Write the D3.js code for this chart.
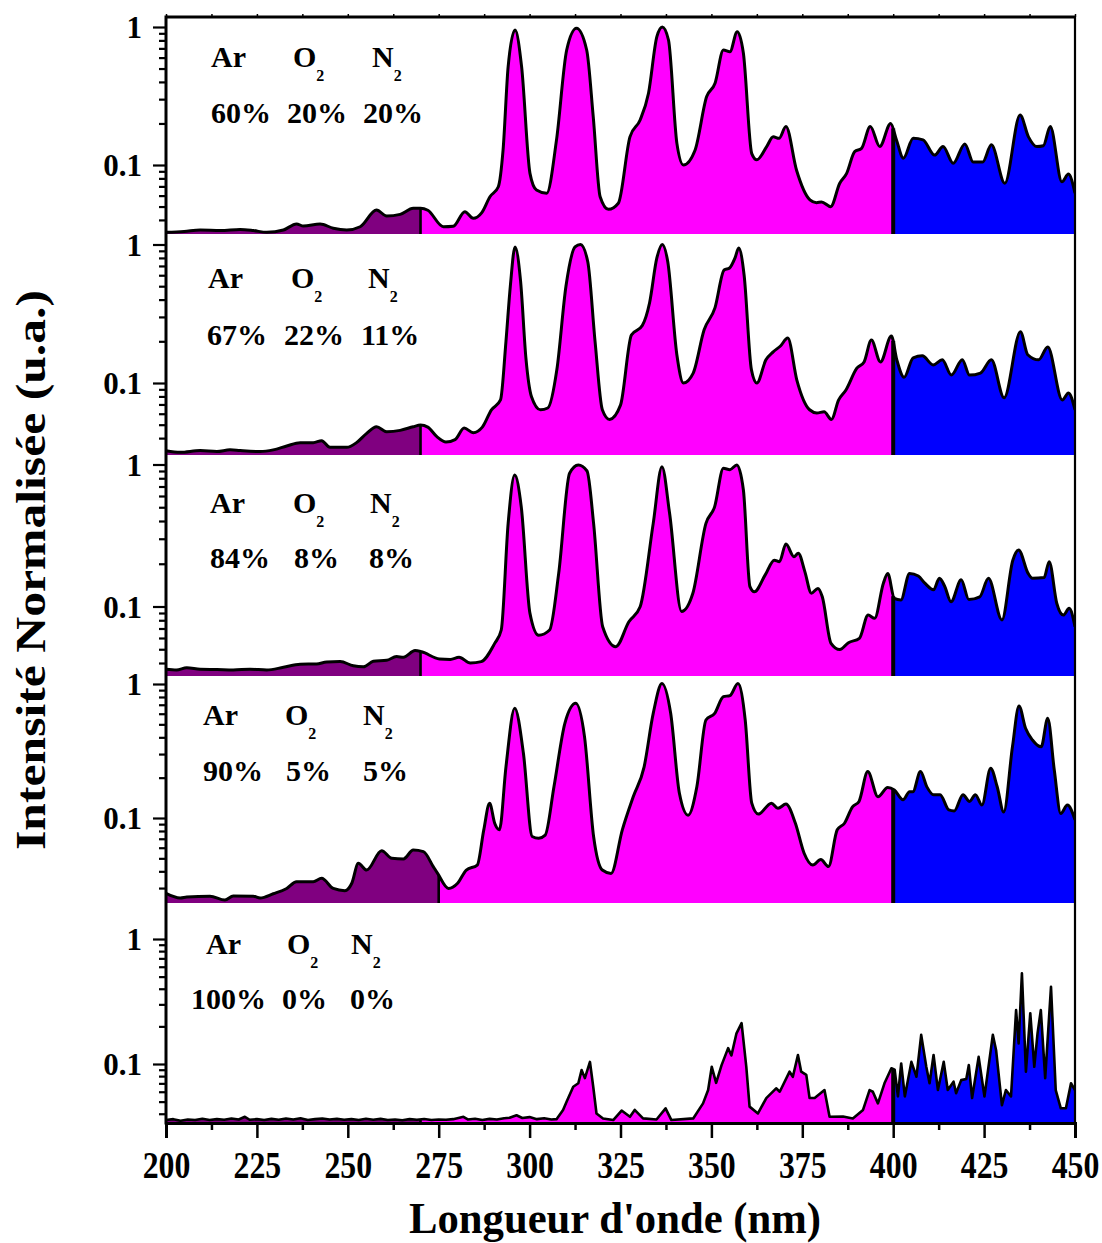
<!DOCTYPE html>
<html><head><meta charset="utf-8">
<script src="https://cdn.jsdelivr.net/npm/d3@7"></script>
<style>
body{margin:0;background:#fff}
text{font-family:"Liberation Serif","Times New Roman",Times,serif;font-weight:bold;fill:#000}
</style>
</head><body>
<svg id="chart" width="1102" height="1243"></svg>
<script>
// ---------------- DATA ----------------
const spectrum60 = [[200,0.0325],[205,0.033],[209.4,0.0338],[215,0.0335],[220.4,0.0341],[224,0.0335],[227.7,0.0325],[232.3,0.0338],[235.9,0.0374],[237.8,0.0361],[242.4,0.0374],[246,0.0348],[249.7,0.0338],[253.4,0.0357],[257.9,0.0472],[260.7,0.0427],[264.4,0.0439],[268,0.0486],[270,0.0486],[272,0.047],[276.3,0.0357],[279,0.036],[282.2,0.0459],[284.5,0.0411],[286.8,0.045],[289.1,0.0589],[291.4,0.0696],[292.7,0.128],[294.1,0.516],[296,0.951],[297.8,0.516],[300.1,0.087],[301.9,0.0659],[304.7,0.0624],[307.4,0.152],[310.2,0.681],[312.9,0.978],[315.7,0.681],[317.5,0.224],[319.4,0.0589],[321.7,0.0477],[324.4,0.0528],[327.6,0.16],[330.4,0.212],[332.7,0.331],[335,0.851],[336.5,1.0],[338.2,0.805],[340.5,0.144],[342.3,0.1],[345.5,0.128],[348.7,0.313],[351,0.391],[353.3,0.681],[355.1,0.662],[357.1,0.925],[358.8,0.645],[361.1,0.121],[362.5,0.109],[365.2,0.136],[367,0.16],[368.6,0.156],[370.5,0.19],[373.4,0.092],[377.1,0.0559],[378.9,0.0533],[380.3,0.054],[382.8,0.0499],[385.3,0.0738],[387.2,0.087],[389.4,0.125],[391.3,0.132],[393.7,0.19],[396.3,0.136],[399.3,0.2],[400.9,0.152],[402.8,0.112],[405.5,0.156],[408.2,0.152],[411.4,0.118],[413.7,0.136],[416.5,0.103],[419.7,0.142],[422,0.105],[424.6,0.105],[427,0.14],[430.7,0.0738],[434.9,0.23],[437.2,0.16],[439.5,0.136],[441.3,0.138],[443.2,0.19],[446.4,0.0756],[448.2,0.0859],[450,0.0624]];

const spectrum67 = [[200,0.0325],[203.9,0.0316],[209.4,0.0325],[214,0.032],[217.6,0.0329],[220.4,0.0325],[225.9,0.032],[229.5,0.0329],[233.2,0.0351],[236.9,0.0371],[240.5,0.0371],[242.8,0.0383],[245.1,0.0343],[249.7,0.0343],[252.4,0.0371],[255.2,0.0433],[257.9,0.0483],[260.7,0.0445],[264.4,0.0455],[268,0.0483],[270,0.0497],[272,0.048],[274.5,0.041],[277,0.0375],[279.5,0.039],[282,0.0473],[284.5,0.0438],[287,0.048],[289.5,0.064],[292,0.0755],[293.5,0.2],[294.7,0.5],[296,0.96],[297.5,0.55],[299,0.15],[300.5,0.08],[303,0.0641],[305,0.066],[307.5,0.125],[310,0.5],[312.5,0.96],[314,1.0],[316,0.75],[318,0.2],[320,0.0641],[322,0.0546],[325,0.0692],[328,0.222],[331,0.26],[333,0.38],[335,0.8],[336.5,1.0],[338,0.75],[340.5,0.16],[342.3,0.1],[345,0.118],[348,0.242],[351,0.35],[353.5,0.654],[355,0.677],[356.5,0.8],[357.5,0.944],[359,0.6],[361,0.125],[362.5,0.1],[365,0.147],[367,0.168],[369,0.185],[371,0.211],[373.5,0.105],[377,0.0641],[379,0.0608],[381,0.062],[383,0.0546],[385,0.0755],[387,0.089],[390,0.128],[392,0.142],[394,0.204],[396.5,0.142],[399.5,0.218],[401,0.147],[403,0.11],[405.5,0.152],[408,0.157],[411,0.135],[413.5,0.147],[416,0.114],[419,0.147],[421,0.114],[424,0.118],[427,0.147],[430.5,0.0782],[435,0.234],[437,0.16],[440,0.147],[442.5,0.182],[446.5,0.0755],[448.2,0.0848],[450,0.0641]];

const spectrum84 = [[200,0.0361],[202.9,0.0357],[205.7,0.0371],[209.4,0.0362],[214,0.036],[218.5,0.0357],[223.1,0.0362],[227.7,0.0357],[232.3,0.0373],[236.9,0.0392],[241.4,0.0394],[244.2,0.0407],[247.9,0.041],[251.5,0.0382],[254.3,0.0376],[257,0.0411],[260.7,0.0418],[263.4,0.0444],[265.3,0.0439],[268.5,0.0489],[270.3,0.048],[275.2,0.0427],[278.2,0.0424],[280.6,0.0439],[283.7,0.04],[286.7,0.0409],[290.4,0.055],[292.2,0.0683],[294.1,0.385],[295.9,0.843],[297.7,0.505],[300.1,0.0894],[302.5,0.0627],[305.5,0.0683],[308,0.171],[311,0.867],[313.4,0.992],[315.8,0.9],[317.6,0.385],[320.1,0.072],[323.7,0.0521],[327.3,0.0781],[330.4,0.0995],[334,0.385],[336.4,0.965],[338.5,0.453],[341.8,0.0924],[344.9,0.124],[348.5,0.385],[350.9,0.505],[353.3,0.94],[355.1,0.92],[357,0.992],[358.8,0.661],[360.6,0.138],[361.8,0.127],[364.8,0.167],[367.3,0.212],[368.7,0.207],[370.5,0.275],[372.7,0.224],[373.9,0.237],[375.7,0.176],[377.5,0.124],[379.3,0.134],[380.5,0.117],[382.9,0.055],[385.3,0.0497],[387.7,0.0556],[390.7,0.0597],[393.1,0.087],[394.9,0.0825],[397.3,0.146],[398.5,0.171],[400.3,0.114],[402.1,0.111],[404.5,0.171],[406.9,0.164],[408.7,0.146],[411.1,0.131],[412.7,0.158],[414.1,0.14],[415.9,0.108],[418.7,0.154],[420.8,0.112],[423.8,0.117],[426.2,0.158],[429.9,0.0804],[432.9,0.212],[434.5,0.25],[437.1,0.171],[438.3,0.158],[441.5,0.16],[442.9,0.207],[445,0.105],[446.8,0.087],[448.4,0.0971],[450,0.072]];

const spectrum90 = [[200,0.0274],[203.9,0.0253],[205.7,0.0257],[212.1,0.0261],[216.2,0.0244],[218.5,0.0262],[224,0.0261],[225.9,0.0253],[229.5,0.0272],[233.2,0.0298],[235.9,0.0335],[240.5,0.0335],[242.8,0.0355],[246,0.0298],[249.2,0.0287],[251.1,0.0326],[252.9,0.0459],[255.2,0.0409],[259.3,0.057],[262.1,0.05],[265.3,0.0495],[268,0.0576],[270.8,0.0561],[273.5,0.0434],[274.7,0.0386],[277.7,0.0298],[280.2,0.0326],[282.6,0.0409],[285.6,0.0445],[287.4,0.0816],[289,0.129],[290.4,0.0914],[291.7,0.0816],[293.5,0.241],[295.9,0.659],[298.3,0.304],[300.7,0.0728],[302.5,0.0707],[304.3,0.0746],[306.7,0.171],[309.7,0.509],[312.7,0.718],[315.1,0.405],[317.6,0.0728],[320,0.0409],[322.4,0.0386],[325.5,0.0816],[328.5,0.144],[331.5,0.241],[334,0.604],[336.4,1.01],[338.8,0.604],[341.2,0.153],[343.6,0.105],[346,0.171],[348.5,0.539],[350.9,0.604],[353.3,0.804],[355.1,0.82],[357.3,1.01],[359.3,0.539],[361.1,0.129],[362.9,0.107],[366.5,0.129],[368.3,0.118],[370.5,0.127],[373.1,0.0914],[375.5,0.0546],[377.9,0.0445],[380.1,0.049],[382.2,0.0434],[384.6,0.0816],[386.6,0.0914],[388.8,0.121],[390.6,0.133],[393,0.222],[395.8,0.144],[398.5,0.169],[400.3,0.162],[402.7,0.137],[404.5,0.157],[405.4,0.157],[407.5,0.222],[409.3,0.17],[411.1,0.149],[412.9,0.149],[415.3,0.115],[416.8,0.113],[419.2,0.149],[421,0.133],[422.6,0.149],[424.4,0.125],[426.8,0.235],[428.6,0.171],[430.4,0.111],[432.8,0.34],[434.6,0.685],[436.4,0.467],[438.3,0.382],[440.7,0.34],[442.5,0.555],[444.3,0.228],[446.1,0.108],[447.9,0.125],[450,0.097]];

const spectrum100 = [[200,0.0356],[202,0.0362],[204,0.0352],[206,0.036],[208,0.0356],[210,0.0365],[212,0.0356],[214,0.0362],[216,0.0358],[218,0.0366],[220,0.036],[221.7,0.0378],[223,0.0358],[225,0.0362],[227,0.0356],[229,0.0364],[231,0.0358],[233,0.0366],[235,0.036],[237,0.0368],[239,0.0356],[241,0.0362],[243,0.0366],[245,0.036],[247,0.0364],[249,0.0358],[251,0.0362],[253,0.0356],[255,0.0365],[257,0.0358],[259,0.0364],[261,0.0356],[263,0.036],[265,0.0355],[267,0.0362],[269,0.0358],[271,0.0363],[273,0.0356],[275,0.036],[277,0.0358],[279,0.0362],[281.8,0.0378],[283,0.036],[285,0.0365],[287,0.0356],[289,0.0364],[291,0.036],[293,0.0368],[294.5,0.0372],[296.4,0.0389],[298,0.037],[300,0.0376],[302,0.0362],[304,0.0368],[306,0.036],[307.4,0.0362],[309.2,0.0429],[310.2,0.0501],[312,0.0658],[313.4,0.0701],[314.3,0.0894],[315.2,0.0771],[316.6,0.104],[317.5,0.0658],[318.4,0.0402],[320.2,0.0367],[323,0.0356],[325.3,0.0424],[327.6,0.0378],[328.9,0.0429],[331.2,0.0367],[334.9,0.036],[337.4,0.0442],[339,0.0356],[345,0.0367],[347.7,0.0484],[349.1,0.0619],[350.1,0.095],[351.3,0.0707],[352.8,0.098],[354.6,0.134],[355.5,0.117],[356.9,0.176],[358.3,0.212],[359.6,0.095],[360.5,0.0456],[362.8,0.0402],[365.1,0.0534],[367.8,0.0639],[368.8,0.06],[371.5,0.0868],[372.4,0.079],[373.8,0.118],[374.7,0.0868],[376.1,0.0819],[377,0.0534],[378.4,0.0534],[381.1,0.0619],[382.5,0.0378],[386.2,0.038],[388.9,0.0367],[391.7,0.0429],[393.5,0.0619],[394.4,0.06],[395.8,0.0484],[397.6,0.0701],[399.5,0.0925],[400.4,0.09],[401.3,0.055],[402.2,0.101],[403.2,0.055],[405,0.104],[406.4,0.0791],[407.7,0.171],[409.1,0.095],[410,0.0701],[411.1,0.118],[412.3,0.0619],[413.9,0.104],[415,0.0619],[416.6,0.0722],[417.3,0.0583],[418.7,0.0743],[420.1,0.076],[420.8,0.098],[421.7,0.0534],[423.5,0.114],[425.1,0.055],[427.4,0.171],[428.3,0.129],[429.9,0.0469],[431,0.0619],[432.4,0.055],[433.8,0.27],[434.5,0.146],[435.4,0.532],[436.5,0.0868],[437.7,0.255],[438.8,0.095],[439.7,0.176],[440.6,0.27],[441.8,0.0771],[443.4,0.415],[444.7,0.0619],[446.1,0.0442],[447.5,0.0442],[448.9,0.0701],[450,0.0619]];

const gasNames = ["Ar", "O", "N"];            // O and N carry subscript 2
const gasSubscripts = ["", "2", "2"];
const compositions = [
  ["60%", "20%", "20%"],
  ["67%", "22%", "11%"],
  ["84%", "8%", "8%"],
  ["90%", "5%", "5%"],
  ["100%", "0%", "0%"]
];
const spectra = [spectrum60, spectrum67, spectrum84, spectrum90, spectrum100];
// wavelength boundaries between fill colours (nm)
const regionBreaks = [[270, 400], [270, 400], [270, 400], [275, 400], [270, 400]];
const xTickValues = [200, 225, 250, 275, 300, 325, 350, 375, 400, 425, 450];
const xMinorTickValues = [212.5, 237.5, 262.5, 287.5, 312.5, 337.5, 362.5, 387.5, 412.5, 437.5];
const yTickValues = [1, 0.1];
const yTickLabels = ["1", "0.1"];
const xAxisTitle = "Longueur d'onde (nm)";
const yAxisTitle = "Intensité Normalisée (u.a.)";

// ---------------- LAYOUT ----------------
const plotLeft = 166, plotRight = 1075;
// per panel: top, bottom, pixel of 1, pixel of 0.1
const panelLayout = [
  {top: 17,  bottom: 234,  p1: 27,    p01: 165},
  {top: 234, bottom: 455,  p1: 244.5, p01: 383},
  {top: 455, bottom: 676,  p1: 464.5, p01: 606.5},
  {top: 676, bottom: 903,  p1: 684,   p01: 818},
  {top: 903, bottom: 1123, p1: 939,   p01: 1064}
];
const labelPos = [
  {gx: [211, 293, 372], gy: 67,   px: [211, 287, 363], py: 123},
  {gx: [208, 291, 368], gy: 288,  px: [207, 284, 361], py: 345},
  {gx: [210, 293, 370], gy: 513,  px: [210, 294, 369], py: 568},
  {gx: [203, 285, 363], gy: 725,  px: [203, 286, 363], py: 781},
  {gx: [206, 287, 351], gy: 954,  px: [191, 282, 350], py: 1009}
];
const colPurple = "#800080", colMagenta = "#FF00FF", colBlue = "#0000FF";

const svg = d3.select("#chart");
const x = d3.scaleLinear().domain([200, 450]).range([plotLeft, plotRight]);
const defs = svg.append("defs");

function yAtX(node, xt) {
  const L = node.getTotalLength();
  let lo = 0, hi = L;
  for (let i = 0; i < 40; i++) {
    const mid = (lo + hi) / 2;
    if (node.getPointAtLength(mid).x < xt) lo = mid; else hi = mid;
  }
  return node.getPointAtLength((lo + hi) / 2).y;
}

spectra.forEach((data, i) => {
  const L = panelLayout[i];
  const dec = L.p01 - L.p1;
  const vTop = Math.pow(10, (L.p1 - L.top) / dec);
  const vBot = Math.pow(10, -(L.bottom - L.p1) / dec);
  const y = d3.scaleLog().domain([vBot, vTop]).range([L.bottom, L.top]);
  const g = svg.append("g");

  const clipId = "clip" + i;
  defs.append("clipPath").attr("id", clipId).append("rect")
    .attr("x", plotLeft).attr("y", L.top).attr("width", plotRight - plotLeft).attr("height", L.bottom - L.top);

  const curve = i === 4 ? d3.curveLinear : d3.curveMonotoneX;
  const area = d3.area().x(d => x(d[0])).y0(L.bottom).y1(d => y(d[1])).curve(curve);
  const line = d3.line().x(d => x(d[0])).y(d => y(d[1])).curve(curve);

  const [b1, b2] = regionBreaks[i];
  const segs = [[200, b1, colPurple], [b1, b2, colMagenta], [b2, 450, colBlue]];
  segs.forEach((s, k) => {
    const id = "seg" + i + "_" + k;
    defs.append("clipPath").attr("id", id).append("rect")
      .attr("x", x(s[0])).attr("y", L.top).attr("width", x(s[1]) - x(s[0])).attr("height", L.bottom - L.top);
    g.append("g").attr("clip-path", `url(#${id})`)
      .append("path").attr("d", area(data)).attr("fill", s[2]);
  });

  const lineG = g.append("g").attr("clip-path", `url(#${clipId})`);
  const path = lineG.append("path").attr("d", line(data))
    .attr("fill", "none").attr("stroke", "#000").attr("stroke-width", i === 4 ? 2.6 : 3)
    .attr("stroke-linejoin", "round");
  const pnode = path.node();
  [[b1, 2.6], [b2, 4]].forEach(([b, w]) => {
    const yy = yAtX(pnode, x(b));
    lineG.insert("line", "path").attr("x1", x(b)).attr("x2", x(b)).attr("y1", L.bottom).attr("y2", yy)
      .attr("stroke", "#000").attr("stroke-width", w);
  });

  // Y axis (major + minor)
  const minor = [];
  for (let e = -2; e <= 0; e++) for (let m = 2; m <= 9; m++) {
    const v = m * Math.pow(10, e);
    if (v > vBot && v < vTop) minor.push(v);
  }
  const yMinorAxis = d3.axisLeft(y).tickValues(minor).tickSize(7).tickFormat("");
  const yAxis = d3.axisLeft(y).tickValues(yTickValues).tickSize(13).tickPadding(11)
    .tickFormat((d, j) => yTickLabels[j]);
  const ga = svg.append("g").attr("transform", `translate(${plotLeft},0)`);
  ga.append("g").call(yMinorAxis);
  ga.append("g").call(yAxis);
  ga.selectAll(".domain").remove();
  ga.selectAll(".tick line").attr("stroke", "#000").attr("stroke-width", 2.2);
  ga.selectAll(".tick text").attr("font-size", 31).attr("dy", "0.34em");

  // gas labels
  const lp = labelPos[i];
  gasNames.forEach((nm, k) => {
    const t = svg.append("text").attr("x", lp.gx[k]).attr("y", lp.gy).attr("font-size", 30).text(nm);
    if (gasSubscripts[k]) t.append("tspan").attr("dy", 14).attr("font-size", 16).text(gasSubscripts[k]);
    svg.append("text").attr("x", lp.px[k]).attr("y", lp.py).attr("font-size", 30).text(compositions[i][k]);
  });
});

// frame
svg.append("line").attr("x1", plotLeft).attr("x2", plotLeft).attr("y1", 15.5).attr("y2", 1124.5).attr("stroke", "#000").attr("stroke-width", 3);
svg.append("line").attr("x1", plotLeft).attr("x2", plotRight + 1).attr("y1", 17).attr("y2", 17).attr("stroke", "#000").attr("stroke-width", 3);
svg.append("line").attr("x1", plotRight).attr("x2", plotRight).attr("y1", 17).attr("y2", 1124).attr("stroke", "#000").attr("stroke-width", 2.2);

// top minor ticks
const topAxis = d3.axisTop(x).tickValues(xTickValues.concat(xMinorTickValues)).tickSize(3).tickFormat("");
const gt = svg.append("g").attr("transform", "translate(0,17)").call(topAxis);
gt.select(".domain").remove();
gt.selectAll(".tick line").attr("stroke", "#000").attr("stroke-width", 1.5);

// bottom axis
const gb = svg.append("g").attr("transform", "translate(0,1123)");
gb.append("g").call(d3.axisBottom(x).tickValues(xMinorTickValues).tickSize(7).tickFormat(""));
gb.append("g").call(d3.axisBottom(x).tickValues(xTickValues).tickSize(15).tickFormat(d3.format("d")));
gb.selectAll(".domain").attr("stroke", "#000").attr("stroke-width", 3);
gb.selectAll(".tick line").attr("stroke", "#000").attr("stroke-width", 2.5);
gb.selectAll(".tick text").attr("font-size", 37)
  .attr("y", 55).attr("dy", 0).attr("transform", "scale(0.86,1)");

// titles
svg.append("text").attr("x", 615).attr("y", 1233).attr("text-anchor", "middle").attr("font-size", 45)
  .attr("textLength", 412).attr("lengthAdjust", "spacingAndGlyphs").text(xAxisTitle);
svg.append("text").attr("transform", "translate(45,570) rotate(-90)").attr("text-anchor", "middle").attr("font-size", 42)
  .attr("textLength", 560).attr("lengthAdjust", "spacingAndGlyphs").text(yAxisTitle);
</script>
</body></html>
